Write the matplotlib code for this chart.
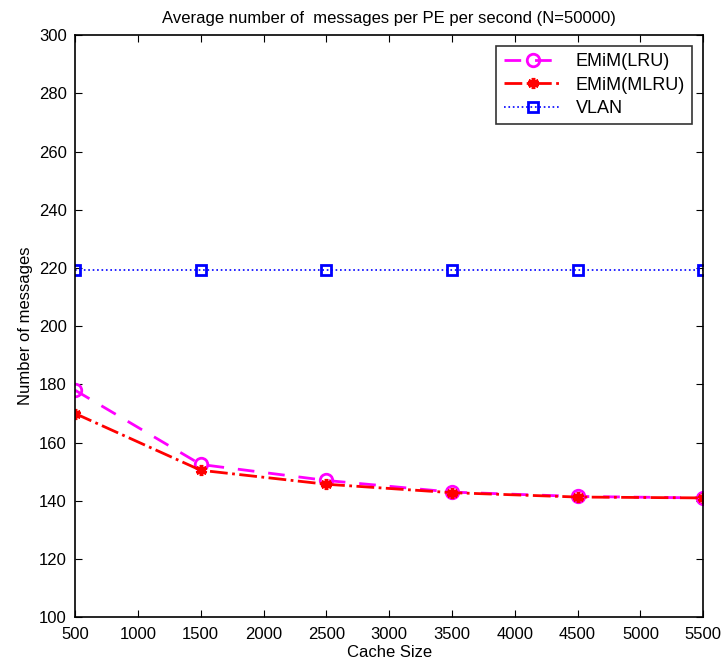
import matplotlib
matplotlib.use("Agg")
import matplotlib.pyplot as plt

cache_size = [500, 1500, 2500, 3500, 4500, 5500]
emim_lru = [178, 152.5, 147, 143, 141.5, 141]
emim_mlru = [170, 150.5, 145.7, 142.8, 141.3, 141]
vlan = [219.3, 219.3, 219.3, 219.3, 219.3, 219.3]

xticks = [500, 1000, 1500, 2000, 2500, 3000, 3500, 4000, 4500, 5000, 5500]
yticks = [100, 120, 140, 160, 180, 200, 220, 240, 260, 280, 300]

plt.rcParams['font.family'] = ['Liberation Sans', 'DejaVu Sans']

fig = plt.figure(figsize=(7.22, 6.63), dpi=100)
ax = fig.add_axes([0.104, 0.069, 0.870, 0.878])

ax.plot(cache_size, emim_lru, linestyle='--', color='magenta', linewidth=2,
        marker='o', markersize=9, markerfacecolor='none', markeredgewidth=2,
        dashes=(6, 5), label='EMiM(LRU)')
ax.plot(cache_size, emim_mlru, linestyle='-.', color='red', linewidth=2,
        marker=(6, 2, 0), markersize=8, markeredgewidth=2.5,
        label='EMiM(MLRU)')
ax.plot(cache_size, vlan, linestyle=':', color='blue', linewidth=1.2,
        marker='s', markersize=7, markerfacecolor='none', markeredgewidth=2,
        label='VLAN')

ax.set_xlim(500, 5500)
ax.set_ylim(100, 300)
ax.set_xticks(xticks)
ax.set_yticks(yticks)
ax.tick_params(direction='in', top=True, right=True, length=5, labelsize=12)
ax.tick_params(axis='x', pad=7)
ax.tick_params(axis='y', pad=6)
for s in ax.spines.values():
    s.set_linewidth(1.2)

ax.set_xlabel('Cache Size', fontsize=12, labelpad=2)
ax.set_ylabel('Number of messages', fontsize=12, labelpad=4)
ax.set_title('Average number of  messages per PE per second (N=50000)', fontsize=12, pad=9)

leg = ax.legend(loc='upper right', fontsize=13, frameon=True, fancybox=False,
                edgecolor='black', borderaxespad=0.6, handlelength=3.2,
                labelspacing=0.35)
leg.get_frame().set_linewidth(1.2)

fig.savefig('out.png', dpi=100)
